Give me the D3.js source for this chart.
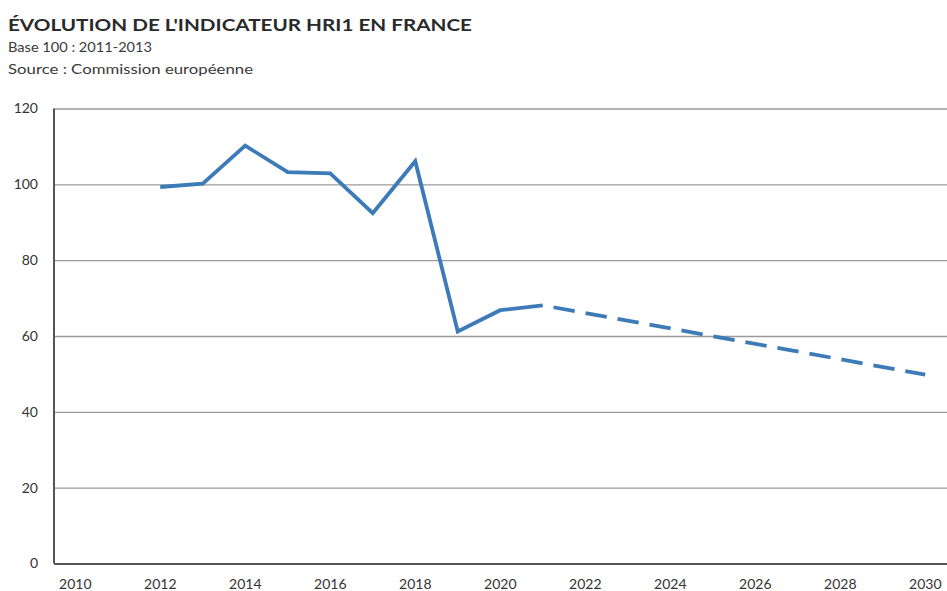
<!DOCTYPE html>
<html><head><meta charset="utf-8">
<script src="https://cdn.jsdelivr.net/npm/d3@7"></script>
<style>body{margin:0;background:#fff}svg{display:block}</style>
</head><body>
<svg id="c" width="947" height="591"></svg>
<script>
const title = "ÉVOLUTION DE L'INDICATEUR HRI1 EN FRANCE";
const subtitle1 = "Base 100 : 2011-2013";
const subtitle2 = "Source : Commission européenne";
const years = d3.range(2010, 2031);
const tickYears = [2010,2012,2014,2016,2018,2020,2022,2024,2026,2028,2030];
const yTicks = [0,20,40,60,80,100,120];
const histYears = [2012,2013,2014,2015,2016,2017,2018,2019,2020,2021];
const histValues = [99.3,100.2,110.2,103.2,102.9,92.4,106.1,61.2,66.8,68.1];
const projYears = [2021,2030];
const projValues = [68.1,49.8];

(function(){
const svg = d3.select("#c");
const font = "Lato, 'Open Sans', sans-serif";
const mLeft = 54, mRight = 946.5, mTop = 108.5, mBottom = 563.5;
const x = d3.scaleBand().domain(years).range([mLeft, mRight]);
const xc = v => x(v) + x.bandwidth()/2;
const y = d3.scaleLinear().domain([0,120]).range([mBottom, mTop]);

svg.append("text").attr("x",8).attr("y",30.5).attr("font-family",font).attr("font-weight",700)
  .attr("font-size",17.5).attr("fill","#2a2a2a").attr("textLength",464).attr("lengthAdjust","spacingAndGlyphs").text(title);
svg.append("text").attr("x",8).attr("y",51.5).attr("font-family",font).attr("font-size",12.5)
  .attr("fill","#3a3a3a").attr("textLength",144).attr("lengthAdjust","spacingAndGlyphs").text(subtitle1);
svg.append("text").attr("x",8).attr("y",74).attr("font-family",font).attr("font-size",12.5)
  .attr("fill","#3a3a3a").attr("textLength",245).attr("lengthAdjust","spacingAndGlyphs").text(subtitle2);

const gy = svg.append("g").attr("transform",`translate(${mLeft},0)`)
  .call(d3.axisLeft(y).tickValues(yTicks).tickSize(-(947-mLeft)).tickPadding(16).tickFormat(d3.format("d")));
gy.select(".domain").remove();
gy.selectAll(".tick line").attr("stroke","#9a9a9a").attr("stroke-width",1.3);
gy.selectAll(".tick text").attr("font-family",font).attr("font-size",14).attr("fill","#333");
gy.selectAll(".tick").filter(d=>d===0).select("line").attr("stroke","#555").attr("stroke-width",2.2);

svg.append("line").attr("x1",mLeft).attr("x2",mLeft).attr("y1",y(120)).attr("y2",y(0))
  .attr("stroke","#555").attr("stroke-width",2);

const gx = svg.append("g").attr("transform",`translate(0,${mBottom})`)
  .call(d3.axisBottom(x).tickValues(tickYears).tickSize(0).tickPadding(16));
gx.select(".domain").remove();
gx.selectAll(".tick text").attr("font-family",font).attr("font-size",14).attr("fill","#333");

const line = d3.line().x(d=>xc(d[0])).y(d=>y(d[1]));
svg.append("path").datum(histYears.map((v,i)=>[v,histValues[i]])).attr("d",line)
  .attr("fill","none").attr("stroke","#3d7ab8").attr("stroke-width",3.8).attr("stroke-linejoin","miter");
svg.append("path").datum(projYears.map((v,i)=>[v,projValues[i]])).attr("d",line)
  .attr("fill","none").attr("stroke","#3d7ab8").attr("stroke-width",3.8).attr("stroke-dasharray","21.5,11")
  .attr("stroke-dashoffset",21.5);
})();
</script>
</body></html>
